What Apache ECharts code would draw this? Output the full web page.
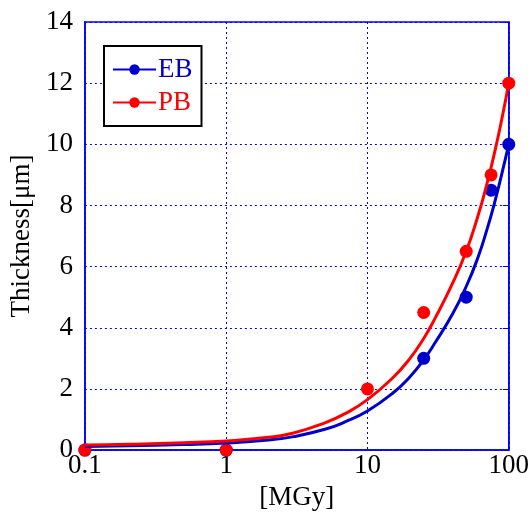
<!DOCTYPE html>
<html>
<head>
<meta charset="utf-8">
<script src="https://cdn.jsdelivr.net/npm/echarts@6/dist/echarts.min.js"></script>
<style>
	html, body { margin: 0; padding: 0; background: #fff; }
	#myApp { width: 532px; height: 516px; }
</style>
</head>
<body>
<div id="myApp"></div>
<script>
// measured points
var ebDose = [0.1, 1, 25, 50, 75, 100];
var ebThick = [0, 0, 3, 5, 8.5, 10];
var pbDose = [0.1, 1, 10, 25, 50, 75, 100];
var pbThick = [0, 0, 2, 4.5, 6.5, 9, 12];

// fitted curves
var fitDose = [0.1, 0.2, 0.5, 1, 2, 3, 5, 7, 10, 15, 20, 25, 30, 40, 50, 60, 70, 80, 90, 100];
var ebFit = [0.12, 0.14, 0.18, 0.23, 0.33, 0.44, 0.68, 0.93, 1.28, 1.85, 2.4, 2.95, 3.5, 4.45, 5.35, 6.25, 7.2, 8.15, 9.1, 10];
var pbFit = [0.17, 0.19, 0.24, 0.3, 0.42, 0.56, 0.89, 1.2, 1.65, 2.35, 3.0, 3.65, 4.3, 5.45, 6.5, 7.6, 8.7, 9.8, 10.9, 12];

var yTicks = ['0', '2', '4', '6', '8', '10', '12', '14'];

var EB_COLOR = '#0000cc';
var PB_COLOR = '#ff0000';
var FRAME = '#0000ff';
var FONT = 'Liberation Serif';
var FSIZE = 27;

function pairs(xs, ys) {
	return xs.map(function(x, i) {
		return [x, ys[i]];
	});
}

var gridLine = {
	show: true,
	lineStyle: { color: FRAME, width: 1, type: [2, 3] }
};

var option = {
	backgroundColor: '#fff',
	animation: false,
	textStyle: { fontFamily: FONT },
	grid: {
		left: 77, right: 22, top: 22, bottom: 62,
		show: true,
		borderColor: FRAME,
		borderWidth: 1.5
	},
	legend: {
		orient: 'vertical',
		left: 104,
		top: 46,
		padding: [10, 9, 10, 8],
		itemGap: 6,
		itemWidth: 43,
		itemHeight: 13,
		borderColor: '#000',
		borderWidth: 2,
		backgroundColor: '#fff',
		textStyle: { fontFamily: FONT, fontSize: FSIZE, lineHeight: 26, padding: [0, 0, 0, -3] },
		data: [
			{ name: 'EB', textStyle: { color: EB_COLOR } },
			{ name: 'PB', textStyle: { color: PB_COLOR } }
		]
	},
	xAxis: {
		type: 'log',
		logBase: 10,
		min: 0.1,
		max: 100,
		name: '[MGy]',
		nameLocation: 'middle',
		nameGap: 26,
		nameTextStyle: { fontFamily: FONT, fontSize: FSIZE, color: '#000' },
		axisLine: { show: true, lineStyle: { color: FRAME, width: 1.5 } },
		axisTick: { show: false },
		axisLabel: {
			fontFamily: FONT, fontSize: FSIZE, color: '#000', margin: 2,
			formatter: function(v) { return String(v); }
		},
		splitLine: gridLine
	},
	yAxis: [{
		type: 'value',
		min: 0,
		max: 14,
		interval: 2,
		name: 'Thickness[\u03bcm]',
		nameLocation: 'middle',
		nameGap: 45,
		nameTextStyle: { fontFamily: FONT, fontSize: FSIZE, color: '#000' },
		axisLine: { show: true, lineStyle: { color: FRAME, width: 1.5 } },
		axisTick: { show: false },
		axisLabel: {
			fontFamily: FONT, fontSize: FSIZE, color: '#000', margin: 12,
			padding: [0, 0, 6, 0],
			formatter: function(v) { return yTicks[Math.round(v / 2)]; }
		},
		splitLine: gridLine
	}, {
		type: 'value',
		position: 'right',
		min: 0,
		max: 14,
		interval: 2,
		axisLine: { show: true, lineStyle: { color: FRAME, width: 1.5 } },
		axisTick: { show: true, inside: true, length: 6, lineStyle: { color: FRAME } },
		axisLabel: { show: false },
		splitLine: { show: false }
	}],
	series: [{
		name: 'EB',
		type: 'line',
		data: pairs(fitDose, ebFit),
		smooth: 0.5,
		showSymbol: false,
		symbol: 'circle',
		color: EB_COLOR,
		lineStyle: { color: EB_COLOR, width: 3 }
	}, {
		name: 'PB',
		type: 'line',
		data: pairs(fitDose, pbFit),
		smooth: 0.5,
		showSymbol: false,
		symbol: 'circle',
		color: PB_COLOR,
		lineStyle: { color: PB_COLOR, width: 3 }
	}, {
		name: 'EB points',
		type: 'scatter',
		data: pairs(ebDose, ebThick),
		symbol: 'circle',
		symbolSize: 13,
		clip: false,
		itemStyle: { color: EB_COLOR, opacity: 1 }
	}, {
		name: 'PB points',
		type: 'scatter',
		data: pairs(pbDose, pbThick),
		symbol: 'circle',
		symbolSize: 13,
		clip: false,
		itemStyle: { color: PB_COLOR, opacity: 1 }
	}]
};

var myChart = echarts.init(document.getElementById('myApp'));
myChart.setOption(option);
</script>
</body>
</html>
